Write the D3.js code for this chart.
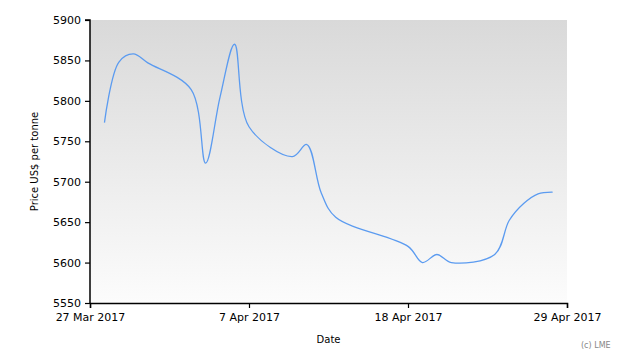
<!DOCTYPE html>
<html>
<head>
<meta charset="utf-8">
<script src="https://cdn.jsdelivr.net/npm/d3@7"></script>
<style>
  body { margin: 0; background: #fff; }
  text { font-family: "DejaVu Sans", sans-serif; }
</style>
</head>
<body>
<script>
const width = 630;
const height = 360;

// LME trading days and prices (US$ per tonne)
const dates = [
    "2017-03-28", "2017-03-29", "2017-03-30", "2017-03-31",
    "2017-04-03", "2017-04-04", "2017-04-05", "2017-04-06", "2017-04-07",
    "2017-04-10", "2017-04-11", "2017-04-12", "2017-04-13",
    "2017-04-18", "2017-04-19", "2017-04-20", "2017-04-21",
    "2017-04-24", "2017-04-25", "2017-04-26", "2017-04-27", "2017-04-28"
];
const prices = [
    5773, 5848, 5858, 5847,
    5814, 5723, 5805, 5870, 5768,
    5731, 5746, 5686, 5656,
    5620, 5600, 5610, 5600,
    5610, 5652, 5673, 5685, 5687
];
const xTicks = ["2017-03-27", "2017-04-07", "2017-04-18", "2017-04-29"];
const yTicks = [5550, 5600, 5650, 5700, 5750, 5800, 5850, 5900];

const parse = d3.timeParse("%Y-%m-%d");
const data = dates.map((d, i) => ({date: parse(d), value: prices[i]}));

const margin = {top: 20, right: 63, bottom: 57, left: 90};

const svg = d3.select("body")
      .append("svg")
      .attr("width", width)
      .attr("height", height);

const x = d3.scaleTime()
      .domain([parse(xTicks[0]), parse(xTicks[xTicks.length - 1])])
      .range([margin.left, width - margin.right]);

const y = d3.scaleLinear()
      .domain([5550, 5900])
      .range([height - margin.bottom, margin.top]);

const grad = svg.append("defs")
      .append("linearGradient")
      .attr("id", "bg")
      .attr("x1", 0).attr("y1", 0)
      .attr("x2", 0).attr("y2", 1);
grad.append("stop").attr("offset", "0%").attr("stop-color", "#d9d9d9");
grad.append("stop").attr("offset", "100%").attr("stop-color", "#fcfcfc");

svg.append("rect")
    .attr("x", margin.left)
    .attr("y", margin.top)
    .attr("width", width - margin.left - margin.right)
    .attr("height", height - margin.top - margin.bottom)
    .attr("fill", "url(#bg)");

const line = d3.line()
      .curve(d3.curveCatmullRom.alpha(0.5))
      .x(d => x(d.date))
      .y(d => y(d.value));

svg.append("path")
    .datum(data)
    .attr("fill", "none")
    .attr("stroke", "#5b9bf0")
    .attr("stroke-width", 1.3)
    .attr("d", line);

const xAxis = svg.append("g")
      .attr("transform", `translate(0,${height - margin.bottom})`)
      .call(d3.axisBottom(x)
            .tickValues(xTicks.map(parse))
            .tickFormat(d3.timeFormat("%-d %b %Y"))
            .tickSize(5)
            .tickPadding(5));

const yAxis = svg.append("g")
      .attr("transform", `translate(${margin.left},0)`)
      .call(d3.axisLeft(y)
            .tickValues(yTicks)
            .tickFormat(d3.format("d"))
            .tickSize(5)
            .tickPadding(4));

[xAxis, yAxis].forEach(g => {
    g.select(".domain").attr("stroke", "#000").attr("stroke-width", 1.5);
    g.selectAll(".tick line").attr("stroke", "#000").attr("stroke-width", 1.2);
    g.selectAll(".tick text")
	.attr("fill", "#000")
	.style("font-family", "DejaVu Sans, sans-serif")
	.style("font-size", "11px");
});
yAxis.select(".domain").attr("d", `M-5,${y(5900)}H0V${y(5550)}`);

svg.append("text")
    .attr("x", (margin.left + width - margin.right) / 2)
    .attr("y", 343)
    .attr("text-anchor", "middle")
    .style("font-size", "10px")
    .attr("fill", "#000")
    .text("Date");

svg.append("text")
    .attr("transform", `translate(38,${(margin.top + height - margin.bottom) / 2}) rotate(-90)`)
    .attr("text-anchor", "middle")
    .style("font-size", "10px")
    .attr("fill", "#000")
    .text("Price US$ per tonne");

svg.append("text")
    .attr("x", 581)
    .attr("y", 348)
    .style("font-size", "8px")
    .attr("fill", "#888")
    .text("(c) LME");
</script>
</body>
</html>
